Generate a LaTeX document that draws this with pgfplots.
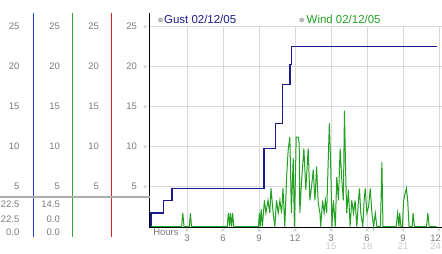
\documentclass[border=0pt]{standalone}
\usepackage{pgfplots}
\pgfplotsset{compat=1.18}
\usepackage{fontspec}
\setmainfont{Liberation Sans}
\definecolor{gustblue}{HTML}{1A1A8C}
\definecolor{windgreen}{HTML}{22A022}
\definecolor{gridgray}{HTML}{D8D8D8}
\definecolor{lblgray}{HTML}{7A7A7A}
\definecolor{lightlbl}{HTML}{C8C8C8}
\definecolor{sideblue}{RGB}{30,60,200}
\definecolor{sidegreen}{RGB}{48,168,48}
\definecolor{sidered}{RGB}{210,40,40}
\newcommand{\lf}{\fontsize{9.5}{10}\selectfont}
\newcommand{\gf}{\fontsize{11.5}{12}\selectfont}
\begin{document}
\begin{tikzpicture}[x=1bp,y=1bp]
\useasboundingbox (0,0) rectangle (442,253);
\begin{axis}[
  at={(149.5bp,25.5bp)}, anchor=south west,
  scale only axis, width=292.5bp, height=200.8bp,
  xmin=-0.125, xmax=24.25, ymin=-0.1, ymax=25,
  /pgf/number format/assume math mode=true,
  axis x line*=bottom, axis y line*=left,
  axis line style={black, line width=1.5bp, -},
  xtick={3,6,...,24}, xticklabels={3,6,9,12,3,6,9,\hspace*{-7bp}12},
  ytick={5,10,...,25},
  yticklabel={\pgfmathprintnumber[assume math mode=true]{\tick}},
  grid=major, major grid style={gridgray, line width=0.8bp},
  tick style={draw=none},
  xticklabel style={font=\lf, text=lblgray, anchor=center, yshift=-11bp},
  yticklabel style={font=\lf, text=lblgray, anchor=east, inner sep=0pt, xshift=-12.5bp},
  extra x ticks={15,18,21,24}, extra x tick labels={15,18,21,\hspace*{-7bp}24},
  extra x tick style={grid=none, xticklabel style={text=lightlbl, yshift=-8bp}},
  clip=false,
]
\addplot[gustblue, line width=1.3bp, const plot] coordinates {
 (-0.1,0) (0,1.7) (1.03,3.3) (1.75,4.8) (9.42,9.8) (10.36,12.9) (10.97,17.8) (11.58,20.3) (11.72,22.5) (23.8,22.5)
};
\addplot[windgreen, line width=1bp] coordinates {
 (0,0) (2.55,0) (2.65,1.7) (2.75,0) (3.2,0) (3.28,1.7) (3.38,0) (6.35,0) (6.45,1.7) (6.55,0) (6.62,1.7) (6.72,0) (6.8,1.7) (6.9,0)
 (8.95,0) (9.03,1.7) (9.1,0) (9.18,2.2) (9.28,0) (9.45,3.3) (9.58,1.7) (9.75,3.3) (9.9,1.7) (10.0,4.8) (10.18,1.7) (10.32,0)
 (10.46,3.3) (10.6,1.7) (10.74,3.3) (10.88,1.7) (11.0,4.8) (11.15,0) (11.3,6.2) (11.43,9.6) (11.57,11.2) (11.7,1.7) (11.85,8.6)
 (11.95,0) (12.1,11.2) (12.27,11.2) (12.35,10.4) (12.4,1.7) (12.55,5.8) (12.74,9.8) (12.9,4.6) (13.1,9.8) (13.24,3.3) (13.38,5.0)
 (13.52,7.1) (13.66,3.3) (13.8,7.5) (13.94,2.9) (14.08,1.7) (14.14,0) (14.3,3.3) (14.42,1.7) (14.53,3.3) (14.64,1.7) (14.86,12.9)
 (14.97,7.9) (15.08,0) (15.2,3.3) (15.36,0) (15.48,6.2) (15.62,3.3) (15.76,9.8) (15.9,5.8) (16.03,3.3) (16.12,14.5) (16.23,6.2)
 (16.31,1.7) (16.45,4.6) (16.59,0) (16.73,3.3) (16.87,1.7) (17.01,3.3) (17.15,0) (17.29,3.3) (17.37,4.8) (17.48,1.7) (17.65,0)
 (17.76,3.3) (17.85,4.8) (17.99,1.7) (18.13,2.5) (18.27,4.8) (18.41,1.7) (18.55,0) (18.69,1.7) (18.82,0) (19.12,0) (19.24,8.1)
 (19.33,0) (20.43,0) (20.55,1.7) (20.67,0) (20.72,1.7) (20.83,0) (20.95,0) (21.05,3.3) (21.28,4.8) (21.39,3.3) (21.5,0) (21.76,0)
 (21.84,1.7) (21.95,0) (22.96,0) (23.07,1.7) (23.18,0) (23.8,0)
};
\end{axis}
% spine extension above the grid
\draw[black, line width=1.5bp] (149.5,226) -- (149.5,240);
% left panel lines
\draw[draw=sideblue, line width=1.5bp] (33.3,16) -- (33.3,240);
\draw[draw=sidegreen, line width=1.5bp] (72.3,16) -- (72.3,240);
\draw[draw=sidered, line width=1.5bp] (111.3,16) -- (111.3,240);
\draw[gray!65, line width=1.6bp] (0,56.3) -- (149.5,56.3);
\foreach \v in {5,10,15,20,25} {
  \node[anchor=east, inner sep=0pt, font=\lf, text=lblgray] at (19.5,{26.3+8*\v}) {\v};
  \node[anchor=east, inner sep=0pt, font=\lf, text=lblgray] at (60,{26.3+8*\v}) {\v};
  \node[anchor=east, inner sep=0pt, font=\lf, text=lblgray] at (99,{26.3+8*\v}) {\v};
  \draw[gray!45, line width=0.5bp] (144,{26.3+8*\v-1.5}) -- (147,{26.3+8*\v+1.5}) (144,{26.3+8*\v+1.5}) -- (147,{26.3+8*\v-1.5});
}
\foreach \h in {3,6,...,24} {
  \draw[gray!45, line width=0.5bp] ({151+12*\h-1.5},21.5) -- ({151+12*\h+1.5},24.5) ({151+12*\h-1.5},24.5) -- ({151+12*\h+1.5},21.5);
}
\node[anchor=east, inner sep=0pt, font=\lf, text=lblgray] at (19.5,49) {22.5};
\node[anchor=east, inner sep=0pt, font=\lf, text=lblgray] at (19.5,34) {22.5};
\node[anchor=east, inner sep=0pt, font=\lf, text=lblgray] at (19.5,21) {0.0};
\node[anchor=east, inner sep=0pt, font=\lf, text=lblgray] at (60,49) {14.5};
\node[anchor=east, inner sep=0pt, font=\lf, text=lblgray] at (60,34) {0.0};
\node[anchor=east, inner sep=0pt, font=\lf, text=lblgray] at (60,21) {0.0};
\node[inner sep=0pt, font=\lf, text=lblgray] at (166,21) {Hours};
% legend
\fill[gray!55] (160.5,233) circle (2.5);
\node[anchor=west, inner sep=0pt, font=\gf, text=gustblue] at (164,233.5) {Gust 02/12/05};
\fill[gray!55] (301.7,233) circle (2.5);
\node[anchor=west, inner sep=0pt, font=\gf, text=windgreen] at (306.5,233.5) {Wind 02/12/05};
\end{tikzpicture}
\end{document}
